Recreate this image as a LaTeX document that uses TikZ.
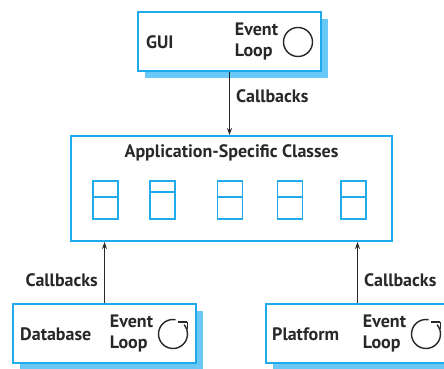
\documentclass[tikz,border=0pt]{standalone}
\usepackage{fontspec}
\setmainfont{PT Sans}
\usetikzlibrary{positioning,arrows.meta,shadows}
\definecolor{boxblue}{RGB}{30,170,235}
\definecolor{shadeblue}{RGB}{105,200,245}
\definecolor{inkgray}{RGB}{40,40,40}
\begin{document}
\begin{tikzpicture}
[x=1pt, y=1pt, font=\fontsize{18}{21}\selectfont\bfseries, text=inkgray,
       module/.style={draw=boxblue, line width=2pt, fill=white,
                      minimum width=183pt, minimum height=59pt,
                      drop shadow={shadow xshift=7pt, shadow yshift=-7pt,
                                   fill=shadeblue, opacity=1}},
       classbox/.style={draw=boxblue, line width=1.6pt, minimum width=25pt,
                        minimum height=38pt, inner sep=0pt},
       loopring/.style={draw=inkgray, line width=1.4pt, circle,
                        minimum size=29pt, inner sep=0pt},
       callarrow/.style={draw=inkgray, line width=1.4pt,
                         -{Stealth[length=7pt,width=5pt]}},
       evlabel/.style={align=left, inner sep=0pt}]
  \useasboundingbox (0,0) rectangle (444,369);
  % the three modules
  \node[module] (gui) at (229.5,327) {};
  \node[draw=boxblue, line width=2pt, minimum width=321pt,
        minimum height=105pt] (app) at (231.5,180.5) {};
  \node[module] (db) at (104.5,35) {};
  \node[module] (plat) at (357.5,35) {};
  % labels
  \node[anchor=west, inner sep=0pt] (guiname) at ([xshift=9pt]gui.west) {GUI};
  \node[anchor=west, inner sep=0pt] (dbname) at ([xshift=8pt]db.west) {Database};
  \node[anchor=west, inner sep=0pt] (platname) at ([xshift=7pt]plat.west) {Platform};
  \node[evlabel] (guiev) at ([xshift=27pt]gui.center) {Event\\Loop};
  \node[evlabel] (dbev) at ([xshift=27pt]db.center) {Event\\Loop};
  \node[evlabel] (platev) at ([xshift=27pt]plat.center) {Event\\Loop};
  \node (apptitle) at ([yshift=-18pt]app.north) {Application-Specific Classes};
  % event loops
  \node[loopring] (guiloop) at ([xshift=68.5pt]gui.center) {};
  \foreach \m in {db,plat} {
    \coordinate (\m loop) at ([xshift=68.5pt]\m.center);
    \draw[inkgray, line width=1.4pt] (\m loop) ++(80:14.5) arc[start angle=80, end angle=400, radius=14.5];
    \draw[inkgray, line width=1.4pt] (\m loop) ++(40:18.7) coordinate (\m tip)
         -- ++(-9.5,0) (\m tip) -- ++(0,-7);
  }
  % classes
  \foreach \cx/\dv [count=\i] in {105.5/17,162.5/12,230/17,290/17,353.5/17} {
    \node[classbox] (cls\i) at (\cx,169) {};
    \draw[boxblue, line width=1.6pt] ([yshift=-\dv pt]cls\i.north west)
          -- ([yshift=-\dv pt]cls\i.north east);
  }
  % callbacks
  \draw[callarrow] (gui.south) -- (gui.south |- app.north)
     node[pos=0.38, right=6pt, inner sep=0pt] (guicb) {Callbacks};
  \draw[callarrow] (db.north) -- (db.north |- app.south)
     node[pos=0.38, left=6pt, inner sep=0pt] (dbcb) {Callbacks};
  \draw[callarrow] (plat.north) -- (plat.north |- app.south)
     node[pos=0.38, right=6pt, inner sep=0pt] (platcb) {Callbacks};
\end{tikzpicture}
\end{document}
